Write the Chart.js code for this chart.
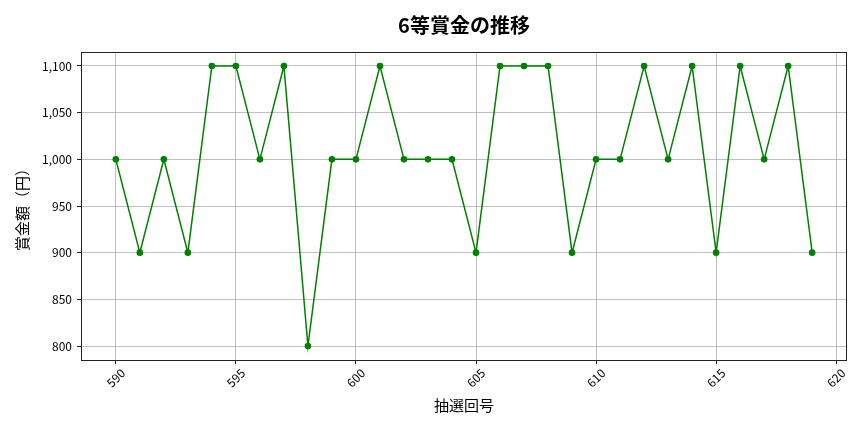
<!DOCTYPE html>
<html>
<head>
<meta charset="utf-8">
<script src="https://cdn.jsdelivr.net/npm/chart.js@4.4.0/dist/chart.umd.min.js"></script>
<style>
html,body{margin:0;padding:0;background:#fff;}
#wrap{width:864px;height:432px;}
</style>
</head>
<body>
<div id="wrap"><canvas id="c" width="864" height="432"></canvas></div>
<script>
const drawNumbers = [590,591,592,593,594,595,596,597,598,599,600,601,602,603,604,605,606,607,608,609,610,611,612,613,614,615,616,617,618,619];
const prizeValues = [1000,900,1000,900,1100,1100,1000,1100,800,1000,1000,1100,1000,1000,1000,900,1100,1100,1100,900,1000,1000,1100,1000,1100,900,1100,1000,1100,900];
const xTicks = [590,595,600,605,610,615,620];
const yTicks = [800,850,900,950,1000,1050,1100];
const titleText = '6等賞金の推移';
const xLabel = '抽選回号';
const yLabel = '賞金額（円）';

const FONT = "'Noto Sans CJK JP', 'Noto Sans', sans-serif";

const points = drawNumbers.map((x, i) => ({x: x, y: prizeValues[i]}));

const xSpan = drawNumbers[drawNumbers.length-1] - drawNumbers[0];
const yMinV = Math.min(...prizeValues), yMaxV = Math.max(...prizeValues);
const ySpan = yMaxV - yMinV;

const framePlugin = {
  id: 'frame',
  afterDraw(chart) {
    const ctx = chart.ctx, a = chart.chartArea;
    ctx.save();
    ctx.strokeStyle = '#222';
    ctx.lineWidth = 1;
    ctx.strokeRect(Math.round(a.left)+0.5, Math.round(a.top)+0.5, Math.round(a.right-a.left)-1, Math.round(a.bottom-a.top));
    // title centred over the plot area
    ctx.fillStyle = '#000';
    ctx.font = 'bold 20px ' + FONT;
    ctx.textAlign = 'center';
    ctx.textBaseline = 'middle';
    ctx.fillText(titleText, (a.left + a.right) / 2, 25);
    // x tick labels, rotated 45deg, centred under tick
    const xs = chart.scales.x;
    ctx.font = '12px ' + FONT;
    xTicks.forEach(v => {
      const px = xs.getPixelForValue(v);
      ctx.save();
      ctx.translate(px, a.bottom + 18);
      ctx.rotate(-Math.PI/4);
      ctx.fillText(String(v), 0, 0);
      ctx.restore();
    });
    ctx.restore();
  }
};

new Chart(document.getElementById('c'), {
  type: 'line',
  data: {
    datasets: [{
      data: points,
      borderColor: '#008000',
      backgroundColor: '#008000',
      borderWidth: 1.5,
      pointRadius: 3.3,
      pointHoverRadius: 3.3,
      pointBorderWidth: 0,
      tension: 0,
      fill: false
    }]
  },
  options: {
    responsive: false,
    animation: false,
    devicePixelRatio: 1,
    layout: {padding: {left: 0, right: 17, top: 52, bottom: 0}},
    plugins: {
      legend: {display: false},
      tooltip: {enabled: false},
      title: {display: false}
    },
    scales: {
      x: {
        type: 'linear',
        min: drawNumbers[0] - xSpan*0.05,
        max: drawNumbers[drawNumbers.length-1] + xSpan*0.05,
        afterBuildTicks: s => { s.ticks = xTicks.map(v => ({value: v})); },
        afterFit: s => { s.height = 72; s.paddingLeft = 0; s.paddingRight = 0; },
        ticks: {display: false},
        grid: {color: '#b0b0b0', lineWidth: 0.8, drawTicks: true, tickLength: 4, tickColor: '#222', tickWidth: 1},
        border: {display: false},
        title: {display: true, text: xLabel, color: '#000', font: {family: FONT, size: 15, lineHeight: 1.2}, padding: {top: 0, bottom: 18}}
      },
      y: {
        type: 'linear',
        min: yMinV - ySpan*0.05,
        max: yMaxV + ySpan*0.05,
        afterBuildTicks: s => { s.ticks = yTicks.map(v => ({value: v})); },
        afterFit: s => { s.width = 81; },
        ticks: {color: '#000', font: {family: FONT, size: 12}, padding: 5,
          callback: v => v.toLocaleString('en-US')},
        grid: {color: '#b0b0b0', lineWidth: 0.8, drawTicks: true, tickLength: 4, tickColor: '#222', tickWidth: 1},
        border: {display: false},
        title: {display: true, text: yLabel, color: '#000', font: {family: FONT, size: 15, lineHeight: 1.2}, padding: {top: 13, bottom: 0}}
      }
    }
  },
  plugins: [framePlugin]
});
</script>
</body>
</html>
